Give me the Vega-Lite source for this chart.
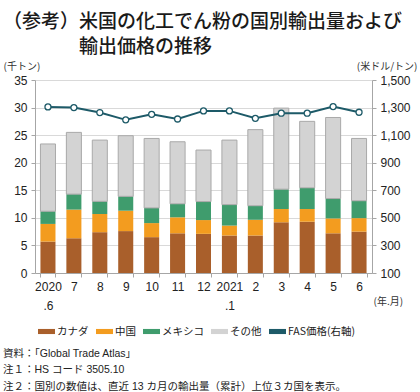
{
  "$schema": "https://vega.github.io/schema/vega-lite/v6.json",
  "width": 337,
  "height": 193,
  "autosize": {"type": "none"},
  "padding": {"left": 35, "top": 80, "right": 48, "bottom": 119},
  "background": "white",
  "title": {
    "text": ["（参考）米国の化工でん粉の国別輸出量および", "\u200b　　　　輸出価格の推移"],
    "subtitle": ["資料：「Global Trade Atlas」", "注１：HS コード 3505.10", "注２：国別の数値は、直近 13 カ月の輸出量（累計）上位３カ国を表示。"],
    "anchor": "start",
    "frame": "group",
    "dx": -32,
    "offset": -331,
    "font": "Noto Sans CJK JP",
    "fontSize": 19,
    "fontWeight": 500,
    "color": "#1a1a1a",
    "lineHeight": 25,
    "subtitleFont": "Liberation Sans, Noto Sans CJK JP",
    "subtitleFontSize": 10.5,
    "subtitleColor": "#222222",
    "subtitleLineHeight": 16.5,
    "subtitlePadding": 292
  },
  "datasets": {
    "bars": [
      {"m": "2020.6", "country": "カナダ", "v": 5.7},
      {"m": "2020.6", "country": "中国", "v": 3.2},
      {"m": "2020.6", "country": "メキシコ", "v": 2.3},
      {"m": "2020.6", "country": "その他", "v": 12.2},
      {"m": "7", "country": "カナダ", "v": 6.3},
      {"m": "7", "country": "中国", "v": 5.2},
      {"m": "7", "country": "メキシコ", "v": 2.8},
      {"m": "7", "country": "その他", "v": 11.2},
      {"m": "8", "country": "カナダ", "v": 7.4},
      {"m": "8", "country": "中国", "v": 3.3},
      {"m": "8", "country": "メキシコ", "v": 2.3},
      {"m": "8", "country": "その他", "v": 11.1},
      {"m": "9", "country": "カナダ", "v": 7.6},
      {"m": "9", "country": "中国", "v": 3.7},
      {"m": "9", "country": "メキシコ", "v": 2.6},
      {"m": "9", "country": "その他", "v": 11.0},
      {"m": "10", "country": "カナダ", "v": 6.5},
      {"m": "10", "country": "中国", "v": 2.55},
      {"m": "10", "country": "メキシコ", "v": 2.75},
      {"m": "10", "country": "その他", "v": 12.6},
      {"m": "11", "country": "カナダ", "v": 7.2},
      {"m": "11", "country": "中国", "v": 2.9},
      {"m": "11", "country": "メキシコ", "v": 2.45},
      {"m": "11", "country": "その他", "v": 11.25},
      {"m": "12", "country": "カナダ", "v": 7.1},
      {"m": "12", "country": "中国", "v": 2.5},
      {"m": "12", "country": "メキシコ", "v": 3.35},
      {"m": "12", "country": "その他", "v": 9.35},
      {"m": "2021.1", "country": "カナダ", "v": 6.8},
      {"m": "2021.1", "country": "中国", "v": 1.8},
      {"m": "2021.1", "country": "メキシコ", "v": 3.8},
      {"m": "2021.1", "country": "その他", "v": 11.7},
      {"m": "2", "country": "カナダ", "v": 6.8},
      {"m": "2", "country": "中国", "v": 2.85},
      {"m": "2", "country": "メキシコ", "v": 2.55},
      {"m": "2", "country": "その他", "v": 13.8},
      {"m": "3", "country": "カナダ", "v": 9.2},
      {"m": "3", "country": "中国", "v": 2.4},
      {"m": "3", "country": "メキシコ", "v": 3.6},
      {"m": "3", "country": "その他", "v": 14.7},
      {"m": "4", "country": "カナダ", "v": 9.3},
      {"m": "4", "country": "中国", "v": 2.3},
      {"m": "4", "country": "メキシコ", "v": 3.85},
      {"m": "4", "country": "その他", "v": 12.05},
      {"m": "5", "country": "カナダ", "v": 7.2},
      {"m": "5", "country": "中国", "v": 2.7},
      {"m": "5", "country": "メキシコ", "v": 3.6},
      {"m": "5", "country": "その他", "v": 14.7},
      {"m": "6", "country": "カナダ", "v": 7.5},
      {"m": "6", "country": "中国", "v": 2.45},
      {"m": "6", "country": "メキシコ", "v": 3.15},
      {"m": "6", "country": "その他", "v": 11.3}
    ],
    "price": [
      {"m": "2020.6", "p": 1305},
      {"m": "7", "p": 1300},
      {"m": "8", "p": 1264},
      {"m": "9", "p": 1211},
      {"m": "10", "p": 1251},
      {"m": "11", "p": 1217},
      {"m": "12", "p": 1276},
      {"m": "2021.1", "p": 1276},
      {"m": "2", "p": 1222},
      {"m": "3", "p": 1259},
      {"m": "4", "p": 1259},
      {"m": "5", "p": 1307},
      {"m": "6", "p": 1266}
    ]
  },
  "layer": [
    {
      "data": {"name": "bars"},
      "transform": [
        {"stack": "v", "groupby": ["m"], "as": ["v0", "v1"]}
      ],
      "mark": {"type": "bar", "strokeWidth": 1},
      "encoding": {
        "x": {
          "field": "m",
          "type": "ordinal",
          "sort": null,
          "scale": {"paddingInner": 0.42, "paddingOuter": 0.21},
          "axis": {
            "title": "(年.月)",
            "labelAngle": 0,
            "labelExpr": "datum.value == '2020.6' ? ['2020', '.6'] : datum.value == '2021.1' ? ['2021', '.1'] : datum.value",
            "labelLineHeight": 19,
            "tickBand": "extent",
            "tickSize": 4,
            "labelPadding": 4,
            "grid": false,
            "titleX": 338,
            "titleY": 28,
            "titleAlign": "left",
            "titleBaseline": "middle",
            "titleAngle": 0
          }
        },
        "y": {
          "field": "v1",
          "type": "quantitative",
          "scale": {"domain": [0, 35], "nice": false},
          "axis": {
            "values": [0, 5, 10, 15, 20, 25, 30, 35],
            "title": "(千トン)",
            "titleAngle": 0,
            "titleX": -32,
            "titleY": -14,
            "titleAlign": "left",
            "titleBaseline": "middle",
            "grid": true,
            "tickSize": 4,
            "labelPadding": 4
          }
        },
        "y2": {"field": "v0"},
        "color": {
          "field": "country",
          "type": "nominal",
          "scale": {
            "domain": ["カナダ", "中国", "メキシコ", "その他", "FAS価格(右軸)"],
            "range": ["#a95f2b", "#f39c1f", "#3f9c6d", "#d3d3d3", "#1d5a68"]
          },
          "legend": {
            "orient": "none",
            "legendX": 3,
            "legendY": 243,
            "direction": "horizontal",
            "title": null,
            "labelFont": "Noto Sans CJK JP",
            "labelFontSize": 10.5,
            "labelColor": "#222222",
            "labelOffset": 2,
            "columnPadding": 7,
            "symbolType": "M-1,-0.3H1V0.3H-1Z",
            "symbolSize": 289,
            "symbolStrokeWidth": 0,
            "encode": {
              "symbols": {
                "update": {
                  "shape": {"signal": "datum.value === 'FAS価格(右軸)' ? 'M-1,0H-0.3M0.3,0H1M0.3,0A0.3,0.3,0,1,1,-0.3,0A0.3,0.3,0,1,1,0.3,0' : 'M-1,-0.3H1V0.3H-1Z'"},
                  "fill": {"signal": "datum.value === 'FAS価格(右軸)' ? '#ffffff' : datum.value === 'カナダ' ? '#a95f2b' : datum.value === '中国' ? '#f39c1f' : datum.value === 'メキシコ' ? '#3f9c6d' : '#d3d3d3'"},
                  "stroke": {"signal": "datum.value === 'FAS価格(右軸)' ? '#1d5a68' : datum.value === 'その他' ? '#a9a9a9' : 'transparent'"},
                  "strokeWidth": {"signal": "datum.value === 'FAS価格(右軸)' ? 2 : 1"}
                }
              }
            }
          }
        },
        "stroke": {
          "condition": {"test": "datum.country === 'その他'", "value": "#a9a9a9"},
          "value": "transparent"
        }
      }
    },
    {
      "data": {"name": "price"},
      "encoding": {
        "x": {"field": "m", "type": "ordinal", "sort": null},
        "y": {
          "field": "p",
          "type": "quantitative",
          "scale": {"domain": [100, 1500], "nice": false, "zero": false},
          "axis": {
            "orient": "right",
            "values": [100, 300, 500, 700, 900, 1100, 1300, 1500],
            "format": ",d",
            "title": "(米ドル/トン)",
            "titleAngle": 0,
            "titleX": 45,
            "titleY": -14,
            "titleAlign": "right",
            "titleBaseline": "middle",
            "grid": false,
            "tickSize": 4,
            "labelPadding": 4
          }
        }
      },
      "layer": [
        {
          "mark": {"type": "line", "strokeWidth": 2},
          "encoding": {"color": {"datum": "FAS価格(右軸)"}}
        },
        {
          "mark": {"type": "point", "filled": true, "fill": "#ffffff", "stroke": "#1d5a68", "strokeWidth": 1.3, "size": 36, "opacity": 1},
          "encoding": {}
        }
      ]
    }
  ],
  "resolve": {"scale": {"y": "independent"}},
  "config": {
    "view": {"stroke": null},
    "axis": {
      "domainColor": "#a6a6a6",
      "tickColor": "#a6a6a6",
      "gridColor": "#d9d9d9",
      "labelColor": "#222222",
      "labelFont": "Liberation Sans",
      "labelFontSize": 12,
      "titleFont": "Noto Sans CJK JP",
      "titleFontSize": 10,
      "titleFontWeight": "normal",
      "titleColor": "#333333"
    }
  }
}
